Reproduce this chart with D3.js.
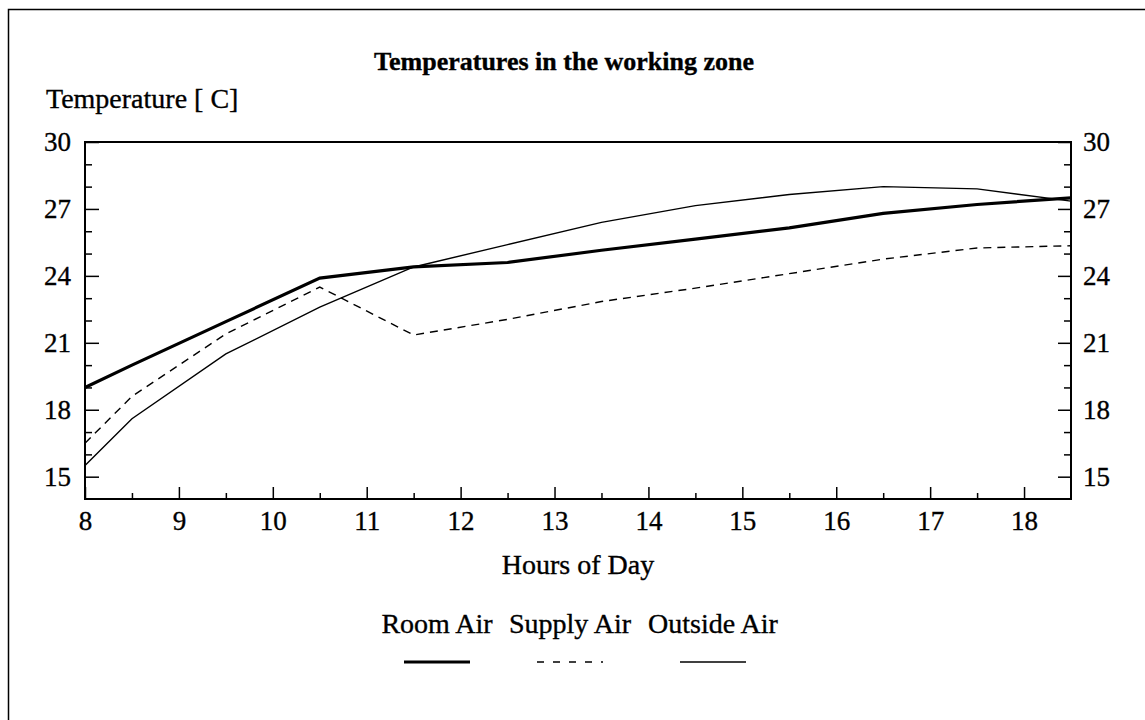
<!DOCTYPE html>
<html>
<head>
<meta charset="utf-8">
<script src="https://cdn.jsdelivr.net/npm/d3@7/dist/d3.min.js"></script>
<style>
  body { margin: 0; background: #fff; }
  text { font-family: "Liberation Serif", "Times New Roman", serif; fill: #000; stroke: #000; stroke-width: 0.35px; }
</style>
</head>
<body>
<script>
// readings taken off the original chart
var hours = [8, 8.5, 9.5, 10.5, 11.5, 12.5, 13.5, 14.5, 15.5, 16.5, 17.5, 18.5];
var roomAir = [19.0, 20.0, 21.95, 23.9, 24.4, 24.6, 25.15, 25.65, 26.15, 26.8, 27.2, 27.5];
var supplyAir = [16.5, 18.6, 21.4, 23.5, 21.35, 22.05, 22.85, 23.45, 24.1, 24.75, 25.25, 25.35];
var outsideAir = [15.5, 17.6, 20.5, 22.6, 24.4, 25.4, 26.4, 27.15, 27.65, 28.0, 27.9, 27.35];
var xTicks = [8, 9, 10, 11, 12, 13, 14, 15, 16, 17, 18];
var yTicks = [15, 18, 21, 24, 27, 30];
var seriesNames = ['Room Air', 'Supply Air', 'Outside Air'];

var chart = {
  width: 1145,
  height: 720,
  left: 85,
  right: 1071,
  top: 142,
  bottom: 499
};

var svg = d3.select('body').append('svg')
  .attr('width', chart.width)
  .attr('height', chart.height);

// outer frame (only top and left edges show in the scan)
svg.append('path')
  .attr('d', 'M8.5,720V9.5H1145')
  .attr('fill', 'none')
  .attr('stroke', '#000')
  .attr('stroke-width', 1.5);

var x = d3.scaleLinear().domain([8, 18.5]).range([chart.left, chart.right]);
var y = d3.scaleLinear().domain([14, 30]).range([chart.bottom, chart.top]);

var minorY = d3.range(15, 30, 1).filter(function(v) { return v % 3 !== 0; });
var minorX = d3.range(8.5, 18.5, 1);

var styleAxis = function(g) {
  g.select('.domain').remove();
  g.selectAll('line').attr('stroke', '#000').attr('stroke-width', 1.5);
  g.selectAll('text').style('font-size', '27px').attr('fill', '#000');
};

// left axis
svg.append('g')
  .attr('transform', 'translate(' + chart.left + ',0)')
  .call(d3.axisLeft(y).tickValues(yTicks).tickSizeInner(-14).tickSizeOuter(0).tickPadding(14).tickFormat(d3.format('d')))
  .call(styleAxis);
svg.append('g')
  .attr('transform', 'translate(' + chart.left + ',0)')
  .call(d3.axisLeft(y).tickValues(minorY).tickSizeInner(-7).tickSizeOuter(0).tickFormat(''))
  .call(styleAxis);

// right axis
svg.append('g')
  .attr('transform', 'translate(' + chart.right + ',0)')
  .call(d3.axisRight(y).tickValues(yTicks).tickSizeInner(-13).tickSizeOuter(0).tickPadding(12).tickFormat(d3.format('d')))
  .call(styleAxis);
svg.append('g')
  .attr('transform', 'translate(' + chart.right + ',0)')
  .call(d3.axisRight(y).tickValues(minorY).tickSizeInner(-7).tickSizeOuter(0).tickFormat(''))
  .call(styleAxis);

// bottom axis
svg.append('g')
  .attr('transform', 'translate(0,' + chart.bottom + ')')
  .call(d3.axisBottom(x).tickValues(xTicks).tickSizeInner(-12).tickSizeOuter(0).tickPadding(12).tickFormat(d3.format('d')))
  .call(styleAxis);
svg.append('g')
  .attr('transform', 'translate(0,' + chart.bottom + ')')
  .call(d3.axisBottom(x).tickValues(minorX).tickSizeInner(-6).tickSizeOuter(0).tickFormat(''))
  .call(styleAxis);

svg.selectAll('g').attr('font-family', null);

// plot box
svg.append('rect')
  .attr('x', chart.left)
  .attr('y', chart.top)
  .attr('width', chart.right - chart.left)
  .attr('height', chart.bottom - chart.top)
  .attr('fill', 'none')
  .attr('stroke', '#000')
  .attr('stroke-width', 2);

var lineFor = function(values) {
  return d3.line()
    .x(function(d, i) { return x(hours[i]); })
    .y(function(d) { return y(d); })(values);
};

svg.append('path')
  .attr('d', lineFor(outsideAir))
  .attr('fill', 'none')
  .attr('stroke', '#000')
  .attr('stroke-width', 1.4);

svg.append('path')
  .attr('d', lineFor(supplyAir))
  .attr('fill', 'none')
  .attr('stroke', '#000')
  .attr('stroke-width', 1.4)
  .attr('stroke-dasharray', '8,6');

svg.append('path')
  .attr('d', lineFor(roomAir))
  .attr('fill', 'none')
  .attr('stroke', '#000')
  .attr('stroke-width', 3.2);

// titles
svg.append('text')
  .attr('x', 564)
  .attr('y', 70)
  .attr('text-anchor', 'middle')
  .style('font-size', '26px')
  .style('font-weight', 'bold')
  .text('Temperatures in the working zone');

svg.append('text')
  .attr('x', 46)
  .attr('y', 108)
  .style('font-size', '28px')
  .text('Temperature [ C]');

svg.append('text')
  .attr('x', 578)
  .attr('y', 574)
  .attr('text-anchor', 'middle')
  .style('font-size', '28px')
  .text('Hours of Day');

// legend
var legendX = [437, 570, 713];
var legendStyles = [
  { width: 3.2, dash: null },
  { width: 1.4, dash: '7,9' },
  { width: 1.4, dash: null }
];

seriesNames.forEach(function(name, i) {
  svg.append('text')
    .attr('x', legendX[i])
    .attr('y', 633)
    .attr('text-anchor', 'middle')
    .style('font-size', '28px')
    .text(name);

  svg.append('line')
    .attr('x1', legendX[i] - 33)
    .attr('x2', legendX[i] + 33)
    .attr('y1', 662)
    .attr('y2', 662)
    .attr('stroke', '#000')
    .attr('stroke-width', legendStyles[i].width)
    .attr('stroke-dasharray', legendStyles[i].dash);
});
</script>
</body>
</html>
